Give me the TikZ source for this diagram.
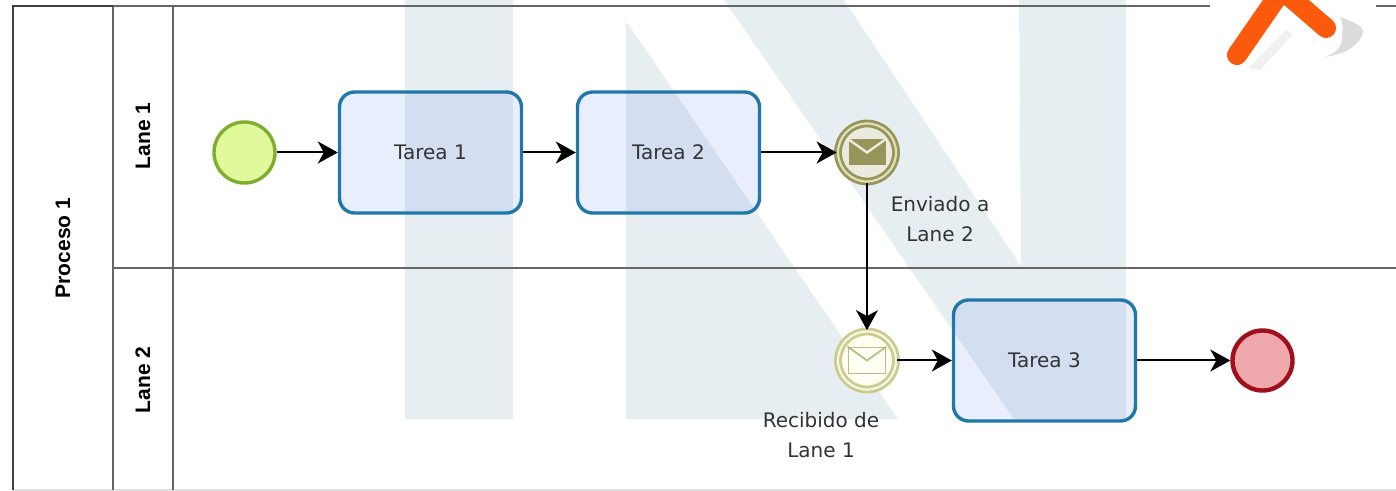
\documentclass[tikz,border=0pt]{standalone}
\usepackage{fontspec}
\setmainfont{DejaVu Sans}
\newfontfamily\lanefont{Liberation Sans}
\usepackage{tikz}
\usetikzlibrary{shapes,arrows.meta,positioning}
\definecolor{markcolor}{HTML}{E7EEF2}
\definecolor{taskfill}{HTML}{4871E6}
\definecolor{taskline}{HTML}{1F78A8}
\definecolor{msgline}{HTML}{96965A}
\definecolor{msgsoft}{HTML}{CBCB8C}
\definecolor{startfill}{HTML}{E0F99A}
\definecolor{startline}{HTML}{7FAE2E}
\definecolor{endfill}{HTML}{EFA8AB}
\definecolor{endline}{HTML}{A0101C}
\definecolor{logocolor}{HTML}{FB5A0C}

\begin{document}
\begin{tikzpicture}[x=0.5pt, y=-0.5pt, font=\fontsize{10}{15}\selectfont]
    % Define styles
    \tikzstyle{task} = [rectangle, rounded corners=7.5pt, minimum width=91pt, minimum height=60.5pt, text centered, draw=taskline, line width=1.7pt, fill=taskfill, fill opacity=0.12, draw opacity=1, text opacity=1, text=black!80]
    \tikzstyle{startev} = [circle, minimum size=30.5pt, inner sep=0pt, draw=startline, line width=1.7pt, fill=startfill]
    \tikzstyle{endev} = [circle, minimum size=30pt, inner sep=0pt, draw=endline, line width=2.2pt, fill=endfill]
    \tikzstyle{msgout} = [circle, minimum size=29pt, inner sep=0pt, draw=msgline, line width=1.4pt, double=msgsoft!60!white, double distance=1.1pt, fill=msgline!20!white]
    \tikzstyle{msgin} = [circle, minimum size=29pt, inner sep=0pt, draw=msgsoft, line width=1.4pt, double=white!80!msgsoft, double distance=1.1pt, fill=yellow!6!white]
    \tikzstyle{lanetext} = [rotate=90, font=\lanefont\fontsize{10.5}{12}\selectfont\bfseries]
    \tikzstyle{evlabel} = [align=center, text=black!80]
    \tikzstyle{flow} = [-{Stealth[length=10pt, width=11pt, inset=3pt]}, line width=1pt, black]
    \tikzstyle{pool} = [draw=black!60, line width=1pt]

    % Frame of the picture
    \path[use as bounding box] (0,0) rectangle (1396,491);

    % Watermark
    \fill[markcolor] (405,0) rectangle (513,419);
    \fill[markcolor] (626,21) -- (898,419) -- (626,419) -- cycle;
    \fill[markcolor] (724,0) -- (844,0) -- (1021,266) -- (1019,0) -- (1126,0) -- (1126,419) -- (1014,419) -- cycle;

    % Pool and lanes
    \coordinate (tl) at (13,6);
    \coordinate (tm) at (113,6);
    \coordinate (tr) at (1210,6);
    \coordinate (trb) at (1376,6);
    \coordinate (trc) at (1396,6);
    \coordinate (bl) at (13,490);
    \coordinate (brb) at (1396,490);
    \coordinate (lb) at (113,490);
    \coordinate (ca) at (173,6);
    \coordinate (cb) at (173,490);
    \coordinate (ma) at (113,268);
    \coordinate (mb) at (1396,268);
    \draw[draw=black!12, line width=0.8pt] (bl) -- (brb);
    \draw[pool] (tr) -- (tl);
    \draw[pool] (trb) -- (trc);
    \draw[pool] (tm) -- (lb);
    \draw[pool] (ca) -- (cb);
    \draw[pool] (ma) -- (mb);
    \draw[draw=black!75, line width=1.2pt] (tm) -- (tl) -- (bl);

    % Labels of pool and lanes
    \node[lanetext] (pool_name) at (63,248) {Proceso 1};
    \node[lanetext] (lane_one) at (143,136) {Lane 1};
    \node[lanetext] (lane_two) at (143,380) {Lane 2};

    % Nodes
    \node[startev] (start) at (244.5,152.5) {};
    \node[task] (tarea_one) at (430.5,152.5) {Tarea 1};
    \node[task] (tarea_two) at (668.5,152.5) {Tarea 2};
    \node[msgout] (send) at (867,152.5) {};
    \node[msgin] (receive) at (867,360.5) {};
    \node[task] (tarea_three) at (1044.5,360.5) {Tarea 3};
    \node[endev] (finish) at (1262.5,360.5) {};

    % Envelopes
    \node[rectangle, minimum width=18.5pt, minimum height=13pt, inner sep=0pt, fill=msgline] (env_out) at (send) {};
    \draw[white!80!msgline, line width=1.2pt] (env_out.north west) -- (env_out.center) -- (env_out.north east);
    \node[rectangle, minimum width=18.5pt, minimum height=13pt, inner sep=0pt, draw=msgsoft!80!gray, line width=0.9pt, fill=yellow!5!white] (env_in) at (receive) {};
    \draw[msgsoft!80!gray, line width=0.9pt] (env_in.north west) -- (env_in.center) -- (env_in.north east);

    % Event labels
    \node[evlabel] (send_label) at (940,219) {Enviado a\\Lane 2};
    \node[evlabel] (receive_label) at (821,435) {Recibido de\\Lane 1};

    % Connections
    \draw[flow] (start) -- (tarea_one);
    \draw[flow] (tarea_one) -- (tarea_two);
    \draw[flow] (tarea_two) -- (send);
    \draw[flow] (send) -- (receive);
    \draw[flow] (receive) -- (tarea_three);
    \draw[flow] (tarea_three) -- (finish);

    % Logo in the corner
    \fill[black!14] (1340,17) to[out=-20,in=60] (1362,36) to[out=-120,in=10] (1325,57) to[out=20,in=-90] (1342,38) to[out=90,in=-60] cycle;
    \fill[black!6] (1286,30) -- (1293,34) -- (1260,70) -- (1248,68) -- cycle;
    \draw[logocolor, line width=10pt, line cap=round, line join=round] (1237,55) -- (1282,-10) -- (1326,28);
\end{tikzpicture}
\end{document}
